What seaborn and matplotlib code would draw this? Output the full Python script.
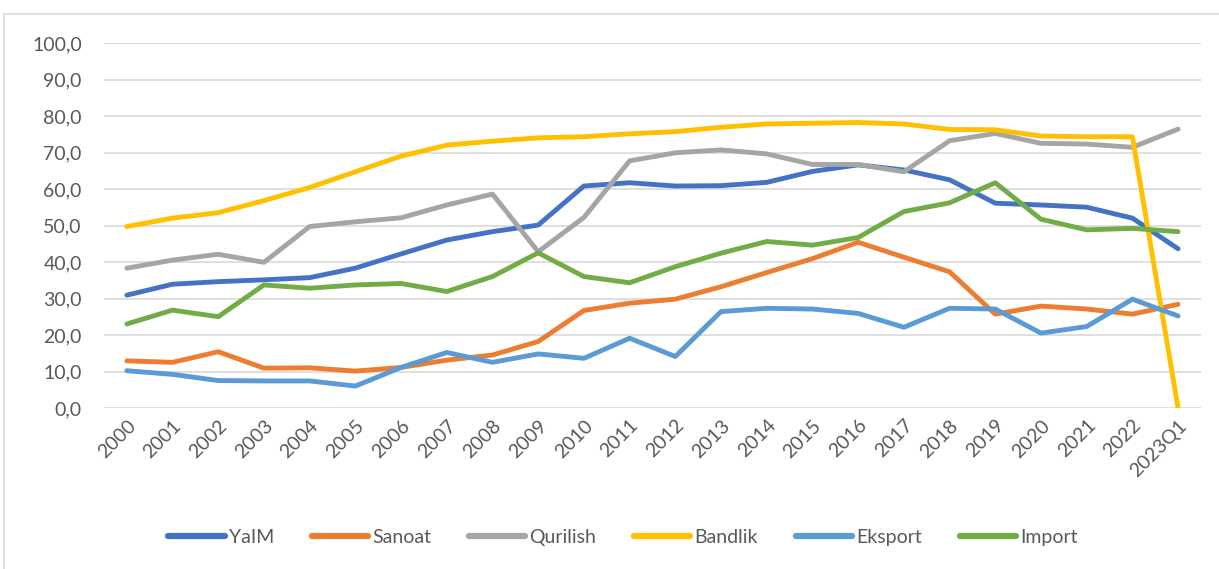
import matplotlib
matplotlib.use("Agg")
import matplotlib.pyplot as plt
import matplotlib.ticker as mticker
import numpy as np
import pandas as pd
import seaborn as sns

# Yillar (kategoriyalar)
yillar = ["2000", "2001", "2002", "2003", "2004", "2005", "2006", "2007", "2008",
          "2009", "2010", "2011", "2012", "2013", "2014", "2015", "2016", "2017",
          "2018", "2019", "2020", "2021", "2022", "2023Q1"]

yalm = [31.0, 34.0, 34.7, 35.2, 35.8, 38.4, 42.3, 46.1, 48.4, 50.2, 60.9, 61.8,
        60.9, 61.0, 61.9, 64.9, 66.7, 65.3, 62.6, 56.2, 55.7, 55.1, 52.1, 43.7]
sanoat = [13.0, 12.6, 15.5, 11.0, 11.1, 10.2, 11.2, 13.2, 14.6, 18.3, 26.8, 28.8,
          29.9, 33.3, 37.2, 41.0, 45.5, 41.4, 37.4, 25.8, 28.0, 27.2, 25.8, 28.5]
qurilish = [38.4, 40.6, 42.2, 40.0, 49.8, 51.1, 52.2, 55.7, 58.7, 42.9, 52.3, 67.8,
            70.0, 70.8, 69.7, 66.8, 66.8, 64.8, 73.3, 75.3, 72.6, 72.4, 71.5, 76.5]
bandlik = [49.8, 52.1, 53.6, 56.9, 60.5, 64.8, 69.1, 72.1, 73.2, 74.1, 74.4, 75.2,
           75.8, 77.0, 77.9, 78.1, 78.3, 77.9, 76.4, 76.3, 74.6, 74.4, 74.4, 0.0]
eksport = [10.3, 9.3, 7.6, 7.5, 7.5, 6.1, 11.2, 15.3, 12.6, 14.9, 13.7, 19.2,
           14.2, 26.5, 27.4, 27.2, 26.0, 22.2, 27.4, 27.2, 20.6, 22.4, 29.9, 25.3]
import_ = [23.1, 26.9, 25.1, 33.8, 32.9, 33.8, 34.2, 32.0, 36.1, 42.6, 36.1, 34.4,
           38.8, 42.5, 45.7, 44.7, 46.8, 53.9, 56.3, 61.8, 51.8, 48.9, 49.3, 48.4]

seriyalar = ["YaIM", "Sanoat", "Qurilish", "Bandlik", "Eksport", "Import"]
ranglar = ["#4472C4", "#ED7D31", "#A5A5A5", "#FFC000", "#5B9BD5", "#70AD47"]

df = pd.DataFrame({"Yil": yillar, "YaIM": yalm, "Sanoat": sanoat, "Qurilish": qurilish,
                   "Bandlik": bandlik, "Eksport": eksport, "Import": import_})
df_long = df.melt(id_vars="Yil", var_name="Seriya", value_name="Qiymat")

sns.set_style("white")
plt.rcParams["font.family"] = ["Lato", "DejaVu Sans"]

fig = plt.figure(figsize=(12.19, 5.69), dpi=100)
ax = fig.add_axes([0.0853, 0.2824, 0.8999, 0.6415])

sns.lineplot(data=df_long, x="Yil", y="Qiymat", hue="Seriya", hue_order=seriyalar,
             palette=ranglar, linewidth=3.5, sort=False, ax=ax, legend=True)

ax.set_xlim(-0.5, len(yillar) - 0.5)
ax.set_ylim(0, 100)
ax.set_yticks(np.arange(0, 101, 10))
ax.yaxis.set_major_formatter(mticker.FuncFormatter(lambda v, p: f"{v:.1f}".replace(".", ",")))
ax.grid(axis="y", color="#d9d9d9", linewidth=1.2)
ax.set_axisbelow(True)
for s in ax.spines.values():
    s.set_visible(False)
ax.set_xlabel("")
ax.set_ylabel("")
ax.tick_params(axis="y", length=0, pad=16, labelsize=14, labelcolor="#595959")
ax.tick_params(axis="x", length=0, pad=6, labelsize=14, labelcolor="#595959")
plt.setp(ax.get_xticklabels(), rotation=45, ha="right", rotation_mode="anchor")

handles, labels = ax.get_legend_handles_labels()
ax.get_legend().remove()
leg = fig.legend(handles, labels, loc="center", bbox_to_anchor=(0.511, 0.056), ncol=6,
                 frameon=False, fontsize=14, handlelength=2.9, handletextpad=0.2,
                 columnspacing=1.95, labelcolor="#595959")
for h in leg.get_lines():
    h.set_linewidth(4.5)
    h.set_solid_capstyle("round")

# ramka
fig.add_artist(plt.Rectangle((0.003, -0.1), 1.2, 1.075, transform=fig.transFigure,
                             fill=False, edgecolor="#d9d9d9", linewidth=1.2))

fig.savefig("out.png", dpi=100)
